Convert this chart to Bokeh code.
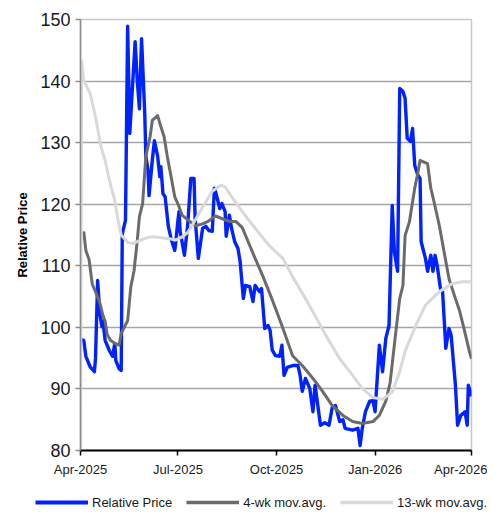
import datetime as dt
from bokeh.plotting import figure
from bokeh.models import (ColumnDataSource, FixedTicker, DatetimeTickFormatter,
                          Legend, LegendItem, Range1d)
from bokeh.embed import file_html
from bokeh.resources import INLINE

# ---------------- data (day offsets from 2025-04-01) ----------------
start_date = dt.datetime(2025, 4, 1)

rel_days = [1, 3, 5, 9, 13, 14, 16, 18, 20, 21, 23, 27, 30, 32, 33, 36, 38, 39, 42, 44,
            46, 48, 51, 53, 55, 57, 60, 61, 63, 64, 67, 69, 72, 74, 75, 77, 79, 82, 85, 88,
            89, 91, 92, 93, 97, 100, 103, 106, 107, 110, 114, 117, 120, 123, 125, 126, 130, 132, 135, 136,
            139, 141, 144, 147, 149, 152, 154, 158, 161, 163, 167, 169, 172, 175, 177, 179, 182, 186, 188, 190,
            193, 198, 203, 205, 207, 210, 214, 217, 219, 221, 224, 228, 232, 235, 238, 242, 245, 247, 254, 259,
            261, 263, 266, 270, 273, 275, 279, 282, 285, 288, 291, 293, 296, 298, 301, 303, 305, 308, 310, 312,
            315, 317, 318, 322, 324, 327, 329, 331, 333, 336, 338, 340, 341, 344, 346, 350, 352, 355, 359, 361,
            362, 364, 365]
rel_price = [98.0, 97.9, 95.3, 93.6, 92.8, 95.0, 107.6, 102.3, 100.1, 101.0, 97.9, 96.2, 95.3, 97.4, 94.6, 93.3, 93.0, 115.2, 117.4, 148.9,
             131.5, 137.5, 146.4, 140.0, 135.5, 146.9, 134.7, 127.8, 125.5, 121.4, 127.1, 130.3, 127.8, 124.5, 126.1, 121.7, 121.2, 116.4, 114.1, 112.5,
             113.9, 117.5, 118.8, 115.6, 111.7, 116.5, 124.2, 124.2, 117.7, 111.2, 116.1, 116.4, 115.7, 115.6, 122.6, 122.1, 119.3, 120.1, 118.8, 114.8,
             118.2, 116.1, 113.9, 112.8, 110.7, 104.7, 106.8, 106.6, 104.2, 106.8, 105.8, 106.3, 99.8, 100.3, 99.5, 96.3, 95.4, 95.3, 97.1, 92.2,
             93.5, 93.8, 93.8, 92.2, 89.6, 91.7, 90.1, 86.3, 90.6, 88.0, 84.1, 84.5, 84.1, 87.0, 87.3, 84.7, 85.0, 83.6, 83.3, 83.6,
             80.8, 83.6, 86.3, 88.0, 88.1, 86.3, 97.1, 92.8, 98.2, 100.3, 119.8, 112.3, 109.1, 138.8, 138.3, 137.2, 130.7, 130.2, 132.3, 126.3,
             124.7, 124.2, 113.9, 111.2, 109.1, 111.7, 109.1, 111.7, 110.0, 106.3, 105.8, 99.8, 96.6, 99.8, 98.7, 90.6, 84.1, 85.7, 86.3, 84.1,
             90.6, 89.6, 88.8]

ma4_days = [3, 5, 8, 11, 14, 18, 21, 23, 25, 28, 32, 36, 38, 44, 47, 50, 53, 55, 58, 61,
            65, 67, 72, 75, 78, 81, 84, 88, 92, 95, 102, 107, 114, 119, 126, 133, 139, 145, 151, 158,
            163, 170, 176, 182, 189, 198, 207, 217, 226, 235, 245, 254, 263, 273, 279, 285, 289, 294, 298, 301,
            303, 307, 312, 315, 317, 324, 327, 330, 335, 340, 344, 349, 354, 358, 363, 365]
ma4 = [115.6, 112.5, 111.0, 107.0, 105.8, 104.0, 101.9, 101.0, 98.8, 97.9, 97.4, 97.1, 99.0, 101.1, 106.6, 109.2, 114.1, 118.0, 120.1, 127.8,
       131.0, 133.6, 134.4, 132.6, 131.0, 127.8, 125.0, 121.2, 119.6, 118.2, 117.2, 116.5, 116.8, 117.2, 118.1, 117.6, 117.2, 117.2, 116.2, 113.3,
       111.2, 108.4, 105.8, 103.1, 99.8, 95.4, 93.8, 91.7, 89.6, 87.3, 85.7, 84.7, 84.4, 84.7, 85.7, 88.0, 91.0, 98.7, 104.7, 106.8,
       114.9, 117.1, 122.6, 125.2, 127.1, 126.6, 122.6, 120.4, 116.5, 111.7, 107.9, 105.2, 102.6, 99.8, 96.1, 94.9]

ma13_days = [0, 1, 3, 9, 14, 19, 23, 27, 32, 35, 38, 44, 49, 55, 61, 67, 74, 83, 89, 95,
             100, 105, 114, 123, 131, 135, 142, 151, 163, 176, 189, 198, 210, 219, 229, 242, 254, 263, 273, 282,
             291, 298, 303, 313, 322, 335, 347, 357, 365]
ma13 = [75.0, 143.3, 140.1, 138.0, 134.2, 129.4, 127.1, 123.9, 120.6, 117.4, 115.0, 113.8, 113.6, 114.1, 114.5, 114.7, 114.6, 114.4, 114.2, 114.7,
        115.4, 116.8, 119.5, 122.1, 123.1, 122.8, 121.0, 118.8, 116.1, 113.3, 111.2, 108.2, 104.7, 101.9, 98.7, 94.9, 92.2, 90.1, 88.6, 88.3,
        89.5, 92.8, 96.1, 100.3, 103.6, 105.8, 107.1, 107.4, 107.4]

y_ticks = [80, 90, 100, 110, 120, 130, 140, 150]
x_tick_dates = [dt.datetime(2025, 4, 1), dt.datetime(2025, 7, 1), dt.datetime(2025, 10, 1),
                dt.datetime(2026, 1, 1), dt.datetime(2026, 4, 1)]
series_names = ["Relative Price", "4-wk mov.avg.", "13-wk mov.avg."]
series_colors = ["#0022FF", "#6B6B6B", "#D9D9D9"]
series_widths = [3.4, 3, 3]


def to_dates(offsets):
    return [start_date + dt.timedelta(days=d) for d in offsets]


def to_ms(d):
    return (d - dt.datetime(1970, 1, 1)).total_seconds() * 1000.0


FONT = "Liberation Sans"

p = figure(width=487, height=480, x_axis_type="datetime",
           x_range=Range1d(start_date, start_date + dt.timedelta(days=365)),
           y_range=Range1d(80, 150),
           output_backend="svg", toolbar_location=None,
           min_border_left=80, min_border_right=16, min_border_top=19, min_border_bottom=30)

p.background_fill_color = "white"
p.border_fill_color = "white"
p.outline_line_color = "#C8C8C8"
p.outline_line_width = 1.5

p.xgrid.visible = False
p.ygrid.grid_line_color = "#A6A6A6"
p.ygrid.grid_line_width = 1.5
p.ygrid.ticker = FixedTicker(ticks=y_ticks)

# y axis
p.yaxis.ticker = FixedTicker(ticks=y_ticks)
p.yaxis.axis_line_color = "#8C8C8C"
p.yaxis.axis_line_width = 1.5
p.yaxis.major_tick_line_color = "#8C8C8C"
p.yaxis.major_tick_line_width = 1.5
p.yaxis.major_tick_out = 5
p.yaxis.major_tick_in = 0
p.yaxis.minor_tick_line_color = None
p.yaxis.major_label_text_font = FONT
p.yaxis.major_label_text_font_size = "18px"
p.yaxis.major_label_text_color = "#1a1a1a"
p.yaxis.major_label_standoff = 5
p.yaxis.axis_label = "Relative Price"
p.yaxis.axis_label_text_font = FONT
p.yaxis.axis_label_text_font_style = "bold"
p.yaxis.axis_label_text_font_size = "13px"
p.yaxis.axis_label_text_color = "#000000"
p.yaxis.axis_label_standoff = 7

# x axis
p.xaxis.ticker = FixedTicker(ticks=[to_ms(d) for d in x_tick_dates])
p.xaxis.formatter = DatetimeTickFormatter(
    milliseconds="%b-%Y", seconds="%b-%Y", minsec="%b-%Y", minutes="%b-%Y",
    hourmin="%b-%Y", hours="%b-%Y", days="%b-%Y", months="%b-%Y", years="%b-%Y")
p.xaxis.axis_line_color = "#000000"
p.xaxis.axis_line_width = 2
p.xaxis.major_tick_line_color = "#000000"
p.xaxis.major_tick_line_width = 1.5
p.xaxis.major_tick_out = 5
p.xaxis.major_tick_in = 0
p.xaxis.minor_tick_line_color = None
p.xaxis.major_label_text_font = FONT
p.xaxis.major_label_text_font_size = "13px"
p.xaxis.major_label_text_color = "#1a1a1a"
p.xaxis.major_label_standoff = 6

src_rel = ColumnDataSource(dict(x=to_dates(rel_days), y=rel_price))
src_ma4 = ColumnDataSource(dict(x=to_dates(ma4_days), y=ma4))
src_ma13 = ColumnDataSource(dict(x=to_dates(ma13_days), y=ma13))

p.line("x", "y", source=src_rel, line_color=series_colors[0], line_width=series_widths[0], line_join="round")
p.line("x", "y", source=src_ma4, line_color=series_colors[1], line_width=series_widths[1], line_join="round")
p.line("x", "y", source=src_ma13, line_color=series_colors[2], line_width=series_widths[2], line_join="round")

# ---------------- legend strip (separate root, so frames are not aligned) ----------------
leg = figure(width=487, height=31, x_range=Range1d(0, 1), y_range=Range1d(0, 1),
             output_backend="svg", toolbar_location=None,
             x_axis_location=None, y_axis_location=None,
             min_border=0, min_border_left=0, min_border_right=0,
             min_border_top=0, min_border_bottom=0)
leg.grid.visible = False
leg.outline_line_color = None
leg.background_fill_color = "white"
leg.border_fill_color = "white"

items = []
nan = float("nan")
for name, col, w in zip(series_names, series_colors, series_widths):
    r = leg.line(x=[nan, nan], y=[nan, nan], line_color=col, line_width=w + 0.6)
    items.append(LegendItem(label=name, renderers=[r]))

legend = Legend(items=items, orientation="horizontal", location=(35, 1),
                glyph_width=53, glyph_height=16, label_height=16,
                label_standoff=4, spacing=14, padding=0, margin=0,
                background_fill_alpha=0, border_line_alpha=0,
                label_text_font=FONT, label_text_font_size="13px",
                label_text_color="#1a1a1a")
leg.add_layout(legend)

open("out.html", "w").write(file_html([p, leg], INLINE))
